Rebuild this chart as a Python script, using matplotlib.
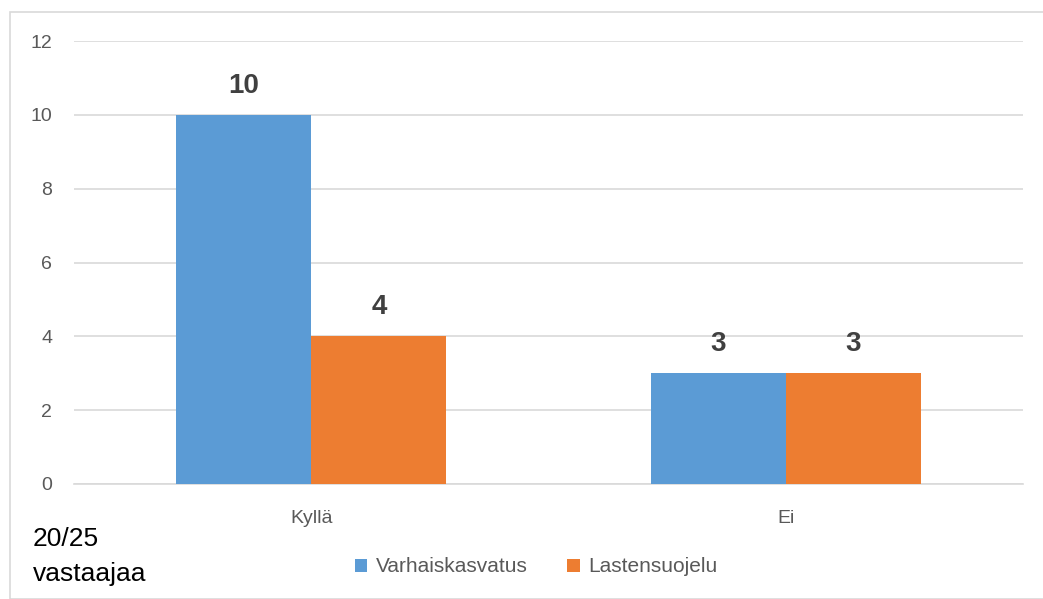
import matplotlib.pyplot as plt
import matplotlib.patches as mpatches
import numpy as np

plt.rcParams['font.family'] = ['Liberation Sans', 'DejaVu Sans']

# data
categories = ['Kyllä', 'Ei']
varhais = [10, 3]
lasten = [4, 3]
series_names = ['Varhaiskasvatus', 'Lastensuojelu']
yticks = [0, 2, 4, 6, 8, 10, 12]

blue = '#5b9bd5'
orange = '#ed7d31'
grid_c = '#d9d9d9'
txt_c = '#595959'

fig = plt.figure(figsize=(10.43, 5.99), dpi=100)

# outer chart border
fig.patches.append(mpatches.Rectangle((10 / 1043, 0), 1.2, 1 - 12 / 599,
                                      transform=fig.transFigure, fill=False,
                                      edgecolor=grid_c, linewidth=1.2))

ax = fig.add_axes([74 / 1043, 1 - 484 / 599, (1023 - 74) / 1043, (484 - 41) / 599])

x = np.arange(len(categories))
w = 0.285
b1 = ax.bar(x - w / 2, varhais, w, color=blue, label=series_names[0], zorder=3)
b2 = ax.bar(x + w / 2, lasten, w, color=orange, label=series_names[1], zorder=3)

for bars in (b1, b2):
    for r in bars:
        ax.annotate('{:d}'.format(int(r.get_height())),
                    (r.get_x() + r.get_width() / 2, r.get_height()),
                    xytext=(0, 16), textcoords='offset points',
                    ha='center', va='baseline',
                    fontsize=20, fontweight='bold', color='#404040')

ax.set_xlim(-0.5, 1.5)
ax.set_ylim(0, 12)
ax.set_yticks(yticks)
ax.set_xticks(x)
ax.set_xticklabels(categories)
ax.yaxis.grid(True, color=grid_c, linewidth=1.2, zorder=0)
for s in ['top', 'right', 'left']:
    ax.spines[s].set_visible(False)
ax.spines['bottom'].set_color(grid_c)
ax.spines['bottom'].set_linewidth(1.2)
ax.tick_params(axis='both', length=0, labelsize=14, colors=txt_c)
ax.tick_params(axis='y', pad=15.8)
ax.tick_params(axis='x', pad=19)

leg = ax.legend(loc='center', bbox_to_anchor=(536 / 1043, 1 - 567 / 599),
                bbox_transform=fig.transFigure, ncol=2, frameon=False,
                fontsize=15, handlelength=0.6, handleheight=0.6,
                columnspacing=1.9, handletextpad=0.4)
for t in leg.get_texts():
    t.set_color(txt_c)

fig.text(33 / 1043, 1 - 546 / 599, '20/25', fontsize=19, color='black', va='baseline')
fig.text(33 / 1043, 1 - 581 / 599, 'vastaajaa', fontsize=19, color='black', va='baseline')

fig.savefig('out.png', dpi=100)
